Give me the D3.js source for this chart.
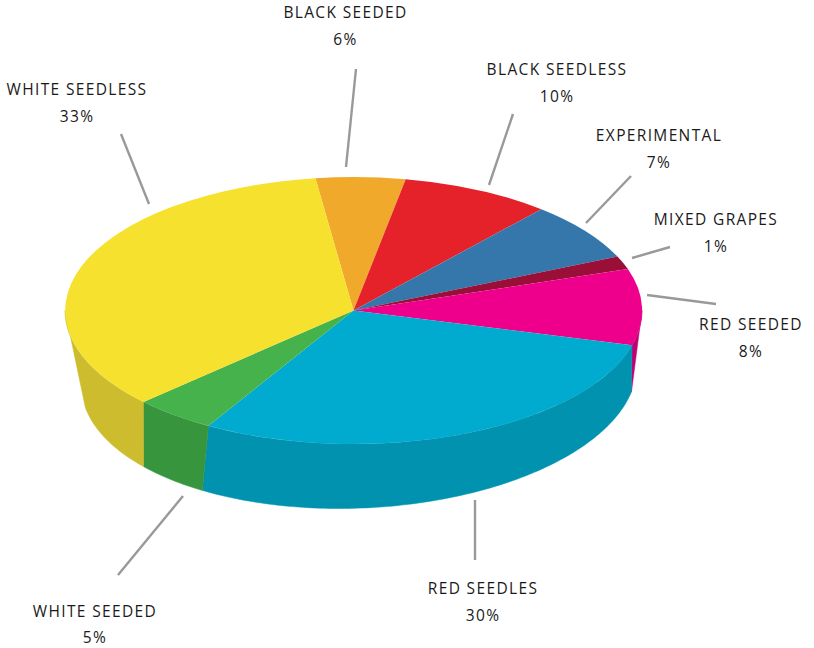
<!DOCTYPE html>
<html>
<head>
<meta charset="utf-8">
<script src="https://cdn.jsdelivr.net/npm/d3@7"></script>
<style>
  html, body { margin: 0; padding: 0; background: #fff; }
  text { font-family: "Open Sans", sans-serif; font-size: 15.5px; letter-spacing: 1.35px; fill: #1a1a1a; text-anchor: middle; }
</style>
</head>
<body>
<div id="viz"></div>
<script>
const categories = ['BLACK SEEDED', 'BLACK SEEDLESS', 'EXPERIMENTAL', 'MIXED GRAPES', 'RED SEEDED', 'RED SEEDLES', 'WHITE SEEDED', 'WHITE SEEDLESS'];
// printed on the labels
const percents = [6, 10, 7, 1, 8, 30, 5, 33];
// share of the disc as actually drawn (the tilted original does not follow the printed numbers exactly)
const drawnShares = [5.0, 8.4, 7.1, 1.6, 9.2, 29.2, 4.6, 34.9];
const topColors = ['#f0a92a', '#e52229', '#3577aa', '#9a0f37', '#ee008c', '#00abcf', '#46b24c', '#f7e12f'];
const wallColors = ['#c48a22', '#bb1c22', '#2b6189', '#7d0c2d', '#c20076', '#0092ae', '#37953e', '#cdbc2d'];

// label anchor x, name baseline, percent baseline, leader x1 y1 x2 y2
const callouts = [
  [345.5, 18, 45, 356, 69, 346, 167],
  [557, 75, 102, 513, 114, 489, 185],
  [659, 141, 168, 631, 176, 586, 223],
  [716, 225, 252, 670, 247, 632, 258],
  [751, 330, 357, 716, 304, 647, 295],
  [483, 594, 621, 475, 500, 475, 560],
  [95, 617, 643, 183, 496, 118, 575],
  [77, 95, 122, 121, 134, 149, 204]
];

const width = 814;
const height = 648;
const startDeg = -7.6;
const disc = { cx: 353.5, cy: 310.5, rx: 288.5, ry: 133.5 };
// underside of the pie is smaller and leans to the left, perspective from the original
const under = { cx: 359, cy: 375.5, ux: 277, vx: -20, vy: 133 };

const rad = d => d * Math.PI / 180;

const svg = d3.select('#viz').append('svg')
  .attr('width', width)
  .attr('height', height)
  .style('display', 'block');

const pie = d3.pie().sort(null)
  .startAngle(rad(startDeg))
  .endAngle(rad(startDeg + 360));
const slices = pie(drawnShares);

// top angle -> angle on the underside where the wall edge lands
const rimAngle = d3.scaleLinear()
  .domain([90, 105, 210, 227, 270])
  .range([97, 97, 210, 227, 256]);

const discPoint = a => [
  disc.cx + disc.rx * Math.sin(rad(a)),
  disc.cy - disc.ry * Math.cos(rad(a))
];
const underPoint = a => {
  const s = Math.sin(rad(a));
  const c = -Math.cos(rad(a));
  return [under.cx + under.ux * s + under.vx * c, under.cy + under.vy * c];
};

// Walls first, only the front half of the pie shows one
const wallLine = d3.line();
slices.forEach((d, i) => {
  const a0 = Math.max(d.startAngle * 180 / Math.PI, 90);
  const a1 = Math.min(d.endAngle * 180 / Math.PI, 270);
  if (a1 <= a0) return;
  const steps = d3.range(a0, a1, 1).concat([a1]);
  const pts = steps.map(discPoint).concat(steps.slice().reverse().map(a => underPoint(rimAngle(a))));
  svg.append('path')
    .attr('d', wallLine(pts) + 'Z')
    .attr('fill', wallColors[i])
    .attr('stroke', wallColors[i])
    .attr('stroke-width', 0.5);
});

// Top disc: a unit d3.arc squashed into the ellipse
const arc = d3.arc().innerRadius(0).outerRadius(1);
svg.append('g')
  .attr('transform', `translate(${disc.cx},${disc.cy}) scale(${disc.rx},${disc.ry})`)
  .selectAll('path')
  .data(slices)
  .enter()
  .append('path')
  .attr('d', arc)
  .attr('fill', (d, i) => topColors[i]);

// Leaders
svg.selectAll('.leader')
  .data(callouts)
  .enter()
  .append('line')
  .attr('class', 'leader')
  .attr('x1', d => d[3])
  .attr('y1', d => d[4])
  .attr('x2', d => d[5])
  .attr('y2', d => d[6])
  .attr('stroke', '#999999')
  .attr('stroke-width', 2.4);

// Labels
categories.forEach((name, i) => {
  const c = callouts[i];
  svg.append('text').attr('x', c[0]).attr('y', c[1]).text(name);
  svg.append('text').attr('x', c[0]).attr('y', c[2]).text(percents[i] + '%');
});
</script>
</body>
</html>
